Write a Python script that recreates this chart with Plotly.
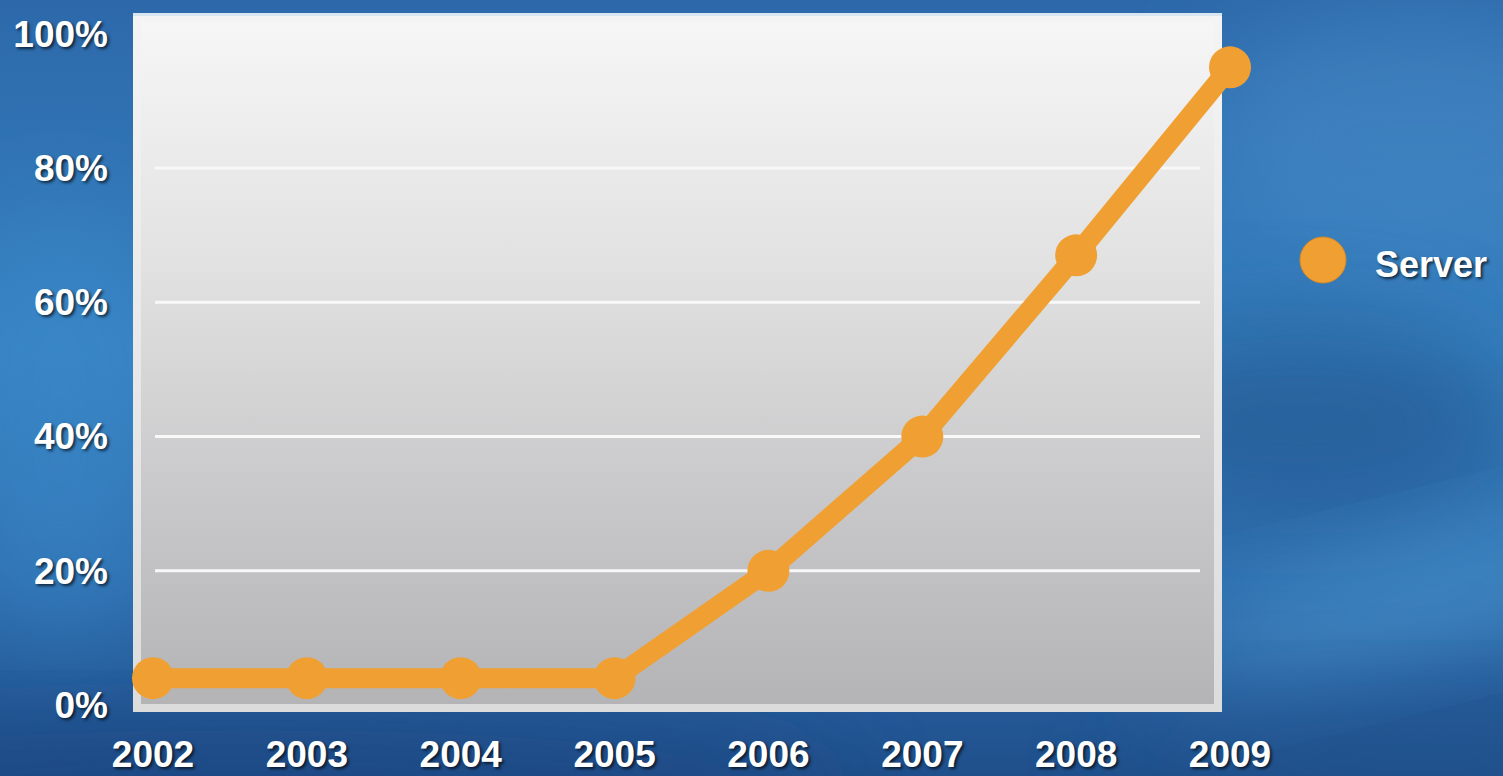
import base64
import plotly.graph_objects as go

# ---- data ----
years = [2002, 2003, 2004, 2005, 2006, 2007, 2008, 2009]
server = [4, 4, 4, 4, 20, 40, 67, 95]
series_name = "Server"
y_ticks = [0, 20, 40, 60, 80, 100]
y_tick_labels = ["0%", "20%", "40%", "60%", "80%", "100%"]
x_tick_labels = ["2002", "2003", "2004", "2005", "2006", "2007", "2008", "2009"]

W, H = 1503, 776
ML, MR, MT, MB = 133, 243, 13, 64
PW, PH = W - ML - MR, H - MT - MB
BOXW = 1089  # visible grey panel width in px

ORANGE = "#f0a032"
FONT = "Liberation Sans"
SHADOW = "2px 2px 3px rgba(0,0,0,0.65)"

bg_svg = f"""<svg xmlns='http://www.w3.org/2000/svg' width='{W}' height='{H}' viewBox='0 0 {W} {H}'>
<defs>
<linearGradient id='g' x1='0' y1='0' x2='0' y2='1'>
<stop offset='0' stop-color='#2d69aa'/>
<stop offset='0.45' stop-color='#3580c0'/>
<stop offset='0.75' stop-color='#2d6cad'/>
<stop offset='1' stop-color='#1f4f8b'/>
</linearGradient>
<filter id='b' x='-50%' y='-50%' width='200%' height='200%'><feGaussianBlur stdDeviation='50'/></filter>
</defs>
<rect width='{W}' height='{H}' fill='url(#g)'/>
<ellipse cx='1420' cy='140' rx='220' ry='130' fill='#4c8ecb' opacity='0.5' filter='url(#b)'/>
<ellipse cx='1300' cy='420' rx='220' ry='100' fill='#24528a' opacity='0.6' filter='url(#b)'/>
<ellipse cx='1420' cy='600' rx='260' ry='55' fill='#4f9bd3' opacity='0.6' filter='url(#b)' transform='rotate(-14 1420 600)'/>
<ellipse cx='1420' cy='760' rx='300' ry='60' fill='#24548f' opacity='0.5' filter='url(#b)'/>
<ellipse cx='60' cy='420' rx='110' ry='220' fill='#3d8dcd' opacity='0.45' filter='url(#b)'/>
<ellipse cx='250' cy='790' rx='600' ry='60' fill='#1a4580' opacity='0.6' filter='url(#b)'/>
</svg>"""

plot_svg = f"""<svg xmlns='http://www.w3.org/2000/svg' width='{BOXW}' height='{PH}' viewBox='0 0 {BOXW} {PH}' preserveAspectRatio='none'>
<defs>
<linearGradient id='p' x1='0' y1='0' x2='0' y2='1'>
<stop offset='0' stop-color='#f6f6f6'/>
<stop offset='0.35' stop-color='#e2e2e2'/>
<stop offset='0.7' stop-color='#c8c8ca'/>
<stop offset='1' stop-color='#b4b4b7'/>
</linearGradient>
<linearGradient id='q' x1='0' y1='0' x2='0' y2='1'>
<stop offset='0' stop-color='#f4f4f4'/>
<stop offset='1' stop-color='#dcdcdc'/>
</linearGradient>
</defs>
<rect width='{BOXW}' height='{PH}' fill='url(#q)'/>
<rect x='8' y='8' width='{BOXW-16}' height='{PH-16}' fill='url(#p)'/>
<rect x='0' y='0' width='{BOXW}' height='3' fill='#d8e6f2'/>
</svg>"""


def uri(svg):
    return "data:image/svg+xml;base64," + base64.b64encode(svg.encode()).decode()


fig = go.Figure()
fig.add_trace(go.Scatter(
    x=years, y=server, name=series_name, mode="lines+markers",
    line=dict(color=ORANGE, width=20),
    marker=dict(color=ORANGE, size=42),
    cliponaxis=False, showlegend=False, hoverinfo="skip",
))

shapes = []
for v in y_ticks[1:-1]:
    shapes.append(dict(type="line", xref="paper", yref="y",
                       x0=22 / PW, x1=(BOXW - 22) / PW, y0=v, y1=v,
                       line=dict(color="#f8f8f8", width=3), layer="below"))

# manual legend
lx, ly = (1323 - ML) / PW, (H - MB - 260) / PH
rx, ry = 23 / PW, 23 / PH
shapes.append(dict(type="circle", xref="paper", yref="paper",
                   x0=lx - rx, x1=lx + rx, y0=ly - ry, y1=ly + ry,
                   fillcolor=ORANGE, line=dict(color="#d98a22", width=1)))

fig.update_layout(
    width=W, height=H,
    margin=dict(l=ML, r=MR, t=MT, b=MB, autoexpand=False),
    paper_bgcolor="#2f6fb0",
    plot_bgcolor="rgba(0,0,0,0)",
    showlegend=False,
    images=[
        dict(source=uri(bg_svg), xref="paper", yref="paper",
             x=-ML / PW, y=1 + MT / PH, sizex=W / PW, sizey=H / PH,
             xanchor="left", yanchor="top", sizing="stretch", layer="below"),
        dict(source=uri(plot_svg), xref="paper", yref="paper",
             x=0, y=1, sizex=BOXW / PW, sizey=1,
             xanchor="left", yanchor="top", sizing="stretch", layer="below"),
    ],
    shapes=shapes,
    annotations=[dict(text=series_name, xref="paper", yref="paper",
                      x=(1373 - ML) / PW, y=(H - MB - 264) / PH,
                      xanchor="left", yanchor="middle", showarrow=False,
                      font=dict(family=FONT, size=36, color="white",
                                weight="bold", shadow=SHADOW))],
    xaxis=dict(range=[2001.87, 2001.87 + PW / 153.86], tickvals=years, ticktext=x_tick_labels,
               showgrid=False, zeroline=False, showline=False, automargin=False,
               ticks="", ticklabelstandoff=17,
               tickfont=dict(family=FONT, size=37, color="white",
                             weight="bold", shadow=SHADOW)),
    yaxis=dict(range=[-1.04, 103.1], tickvals=y_ticks, ticktext=y_tick_labels,
               showgrid=False, zeroline=False, showline=False, automargin=False,
               ticks="", ticklabelstandoff=24,
               tickfont=dict(family=FONT, size=37, color="white",
                             weight="bold", shadow=SHADOW)),
)

fig.write_html("out.html", config={"displayModeBar": False},
               post_script="document.body.style.margin='0';document.body.style.overflow='hidden';")
